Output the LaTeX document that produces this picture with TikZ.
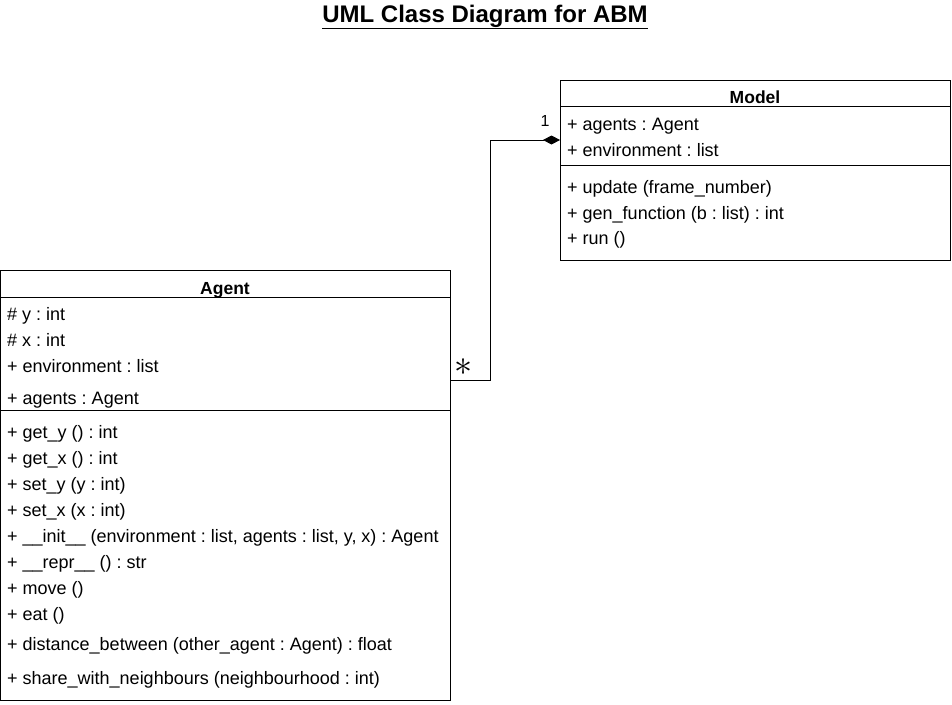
\documentclass[tikz,border=0pt]{standalone}
\usepackage{fontspec}
\setmainfont{Liberation Sans}
\usetikzlibrary{arrows.meta}
\frenchspacing

\begin{document}
\begin{tikzpicture}[x=1pt, y=-1pt,
  classbox/.style={draw, line width=1pt, inner sep=0pt, anchor=north west},
  member/.style={anchor=base west, inner sep=0pt, font=\fontsize{18}{21}\selectfont},
  header/.style={anchor=base, inner sep=0pt, font=\fontsize{17.5}{21}\selectfont\bfseries},
  mult/.style={inner sep=0pt, font=\fontsize{16}{19}\selectfont}]
  \useasboundingbox (0,0) rectangle (952,704);
  % title
  \node[inner sep=0pt, font=\fontsize{24}{28}\selectfont\bfseries] (title) at (485,17)
    {\underline{UML Class Diagram for ABM}};
  % Model class
  \node[classbox, minimum width=390pt, minimum height=180pt] (model) at (560,80) {};
  \node[header] (modelname) at (755,103) {Model};
  \draw[line width=1pt] (560,106) -- (950,106);
  \draw[line width=1pt] (560,165) -- (950,165);
  \foreach \y/\txt [count=\i] in {130/{+ agents : Agent}, 156/{+ environment : list},
      193/{+ update (frame\_number)}, 219/{+ gen\_function (b : list) : int}, 244/{+ run ()}}
    \node[member] (modelrow\i) at (567,\y) {\txt};
  % Agent class
  \node[classbox, minimum width=450pt, minimum height=430pt] (agent) at (0,270) {};
  \node[header] (agentname) at (225,294) {Agent};
  \draw[line width=1pt] (0,297) -- (450,297);
  \draw[line width=1pt] (0,410) -- (450,410);
  \foreach \y/\txt [count=\i] in {320/{\# y : int}, 346/{\# x : int},
      372/{+ environment : list}, 404/{+ agents : Agent},
      438/{+ get\_y () : int}, 464/{+ get\_x () : int}, 490/{+ set\_y (y : int)},
      516/{+ set\_x (x : int)},
      542/{+ \_\_init\_\_ (environment : list, agents : list, y, x) : Agent},
      568/{+ \_\_repr\_\_ () : str}, 594/{+ move ()}, 620/{+ eat ()},
      650/{+ distance\_between (other\_agent : Agent) : float},
      684/{+ share\_with\_neighbours (neighbourhood : int)}}
    \node[member] (agentrow\i) at (7,\y) {\txt};
  % composition
  \coordinate (agentend) at (450,380);
  \coordinate (modelend) at (560,140);
  \draw[line width=1pt, -{Diamond[length=17pt, width=9pt]}]
    (agentend) -- ++(40,0) |- (modelend);
  \node[mult, font=\fontsize{24}{24}\selectfont] (many) at (464,367) {\scalebox{1.45}{$\ast$}};
  \node[mult] (one) at (545,121) {1};
\end{tikzpicture}
\end{document}
